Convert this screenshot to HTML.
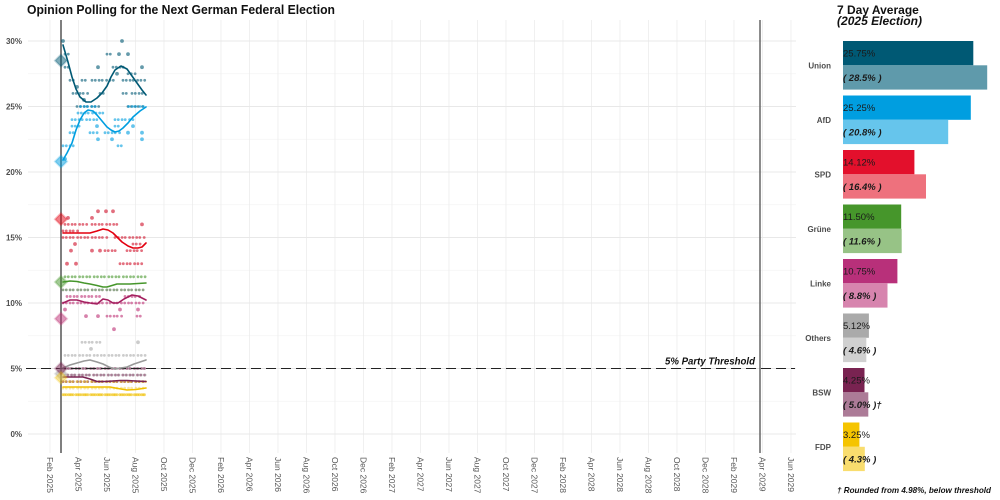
<!DOCTYPE html>
<html><head><meta charset="utf-8">
<style>
html,body{margin:0;padding:0;background:#fff;}
svg{display:block;font-family:"Liberation Sans",Arial,sans-serif;}
.gv{stroke:#ececec;stroke-width:0.8}
.gh{stroke:#e8e8e8;stroke-width:1}
.gm{stroke:#f4f4f4;stroke-width:0.7}
.xl{font-size:8.5px;fill:#555;}
.yl{font-size:8px;font-weight:bold;fill:#4d4d4d;text-anchor:end}
.pl{font-size:8px;font-weight:bold;fill:#4d4d4d;text-anchor:end}
.d{stroke-linecap:round;stroke-width:2.8;stroke-dasharray:0 3.3 0 3.8 0 3.1 0 4.4;opacity:.6;fill:none}
.c{opacity:.6}
.ln{fill:none;stroke-width:1.6;stroke-linejoin:round;stroke-linecap:round}
.bt{font-size:9.5px;fill:#1a1a1a}
.bi{font-size:9.5px;fill:#1a1a1a;font-style:italic;font-weight:bold}
</style></head><body>
<svg width="1000" height="500" viewBox="0 0 1000 500" xmlns="http://www.w3.org/2000/svg">
<rect width="1000" height="500" fill="#fff"/>
<g class="gm">
<line x1="28" x2="796" y1="401.25" y2="401.25"/>
<line x1="28" x2="796" y1="335.75" y2="335.75"/>
<line x1="28" x2="796" y1="270.25" y2="270.25"/>
<line x1="28" x2="796" y1="204.75" y2="204.75"/>
<line x1="28" x2="796" y1="139.25" y2="139.25"/>
<line x1="28" x2="796" y1="73.75" y2="73.75"/>
</g>
<g class="gv">
<line x1="50" x2="50" y1="20" y2="453"/><line x1="78.5" x2="78.5" y1="20" y2="453"/><line x1="107" x2="107" y1="20" y2="453"/><line x1="135.5" x2="135.5" y1="20" y2="453"/><line x1="164" x2="164" y1="20" y2="453"/><line x1="192.5" x2="192.5" y1="20" y2="453"/><line x1="221" x2="221" y1="20" y2="453"/><line x1="249.5" x2="249.5" y1="20" y2="453"/><line x1="278" x2="278" y1="20" y2="453"/><line x1="306.5" x2="306.5" y1="20" y2="453"/><line x1="335" x2="335" y1="20" y2="453"/><line x1="363.5" x2="363.5" y1="20" y2="453"/><line x1="392" x2="392" y1="20" y2="453"/><line x1="420.5" x2="420.5" y1="20" y2="453"/><line x1="449" x2="449" y1="20" y2="453"/><line x1="477.5" x2="477.5" y1="20" y2="453"/><line x1="506" x2="506" y1="20" y2="453"/><line x1="534.5" x2="534.5" y1="20" y2="453"/><line x1="563" x2="563" y1="20" y2="453"/><line x1="591.5" x2="591.5" y1="20" y2="453"/><line x1="620" x2="620" y1="20" y2="453"/><line x1="648.5" x2="648.5" y1="20" y2="453"/><line x1="677" x2="677" y1="20" y2="453"/><line x1="705.5" x2="705.5" y1="20" y2="453"/><line x1="734" x2="734" y1="20" y2="453"/><line x1="762.5" x2="762.5" y1="20" y2="453"/><line x1="791" x2="791" y1="20" y2="453"/>
</g>
<g class="gh">
<line x1="28" x2="796" y1="434" y2="434"/>
<line x1="28" x2="796" y1="368.5" y2="368.5"/>
<line x1="28" x2="796" y1="303" y2="303"/>
<line x1="28" x2="796" y1="237.5" y2="237.5"/>
<line x1="28" x2="796" y1="172" y2="172"/>
<line x1="28" x2="796" y1="106.5" y2="106.5"/>
<line x1="28" x2="796" y1="41" y2="41"/>
</g>
<text x="27" y="14" font-size="12.5" font-weight="bold" fill="#111" textLength="308" lengthAdjust="spacingAndGlyphs">Opinion Polling for the Next German Federal Election</text>
<text class="yl" x="22" y="44">30%</text>
<text class="yl" x="22" y="109.5">25%</text>
<text class="yl" x="22" y="175">20%</text>
<text class="yl" x="22" y="240.5">15%</text>
<text class="yl" x="22" y="306">10%</text>
<text class="yl" x="22" y="371.5">5%</text>
<text class="yl" x="22" y="437">0%</text>
<g class="xl" dominant-baseline="central">
<text transform="translate(50,457) rotate(90)">Feb 2025</text>
<text transform="translate(78.5,457) rotate(90)">Apr 2025</text>
<text transform="translate(107,457) rotate(90)">Jun 2025</text>
<text transform="translate(135.5,457) rotate(90)">Aug 2025</text>
<text transform="translate(164,457) rotate(90)">Oct 2025</text>
<text transform="translate(192.5,457) rotate(90)">Dec 2025</text>
<text transform="translate(221,457) rotate(90)">Feb 2026</text>
<text transform="translate(249.5,457) rotate(90)">Apr 2026</text>
<text transform="translate(278,457) rotate(90)">Jun 2026</text>
<text transform="translate(306.5,457) rotate(90)">Aug 2026</text>
<text transform="translate(335,457) rotate(90)">Oct 2026</text>
<text transform="translate(363.5,457) rotate(90)">Dec 2026</text>
<text transform="translate(392,457) rotate(90)">Feb 2027</text>
<text transform="translate(420.5,457) rotate(90)">Apr 2027</text>
<text transform="translate(449,457) rotate(90)">Jun 2027</text>
<text transform="translate(477.5,457) rotate(90)">Aug 2027</text>
<text transform="translate(506,457) rotate(90)">Oct 2027</text>
<text transform="translate(534.5,457) rotate(90)">Dec 2027</text>
<text transform="translate(563,457) rotate(90)">Feb 2028</text>
<text transform="translate(591.5,457) rotate(90)">Apr 2028</text>
<text transform="translate(620,457) rotate(90)">Jun 2028</text>
<text transform="translate(648.5,457) rotate(90)">Aug 2028</text>
<text transform="translate(677,457) rotate(90)">Oct 2028</text>
<text transform="translate(705.5,457) rotate(90)">Dec 2028</text>
<text transform="translate(734,457) rotate(90)">Feb 2029</text>
<text transform="translate(762.5,457) rotate(90)">Apr 2029</text>
<text transform="translate(791,457) rotate(90)">Jun 2029</text>
</g>
<line x1="61" x2="61" y1="20" y2="453" stroke="#555" stroke-width="1.5"/>
<line x1="760" x2="760" y1="20" y2="453" stroke="#666" stroke-width="1.5"/>

<g stroke="#005974" fill="#005974">
<circle class="c" cx="63" cy="41" r="1.4"/><circle class="c" cx="122" cy="41" r="1.4"/>
<line class="d" x1="65" x2="72" y1="54.1" y2="54.1"/><line class="d" x1="107" x2="113" y1="54.1" y2="54.1"/>
<circle class="c" cx="119" cy="54.1" r="1.4"/><circle class="c" cx="128" cy="54.1" r="1.4"/>
<line class="d" x1="65" x2="70" y1="67.2" y2="67.2"/><line class="d" x1="113" x2="127" y1="67.2" y2="67.2"/>
<circle class="c" cx="98" cy="67.2" r="1.4"/><circle class="c" cx="142" cy="67.2" r="1.4"/>
<circle class="c" cx="117" cy="73.75" r="1.4"/><line class="d" x1="128" x2="137" y1="73.75" y2="73.75"/>
<line class="d" x1="70" x2="75" y1="80.3" y2="80.3"/><line class="d" x1="82" x2="86" y1="80.3" y2="80.3"/><line class="d" x1="92" x2="107" y1="80.3" y2="80.3"/><line class="d" x1="110" x2="115" y1="80.3" y2="80.3"/><line class="d" x1="123" x2="145" y1="80.3" y2="80.3"/>
<circle class="c" cx="77" cy="86.85" r="1.4"/>
<line class="d" x1="73" x2="90" y1="93.4" y2="93.4"/><line class="d" x1="100" x2="107" y1="93.4" y2="93.4"/><line class="d" x1="123" x2="127" y1="93.4" y2="93.4"/><line class="d" x1="132" x2="145" y1="93.4" y2="93.4"/>
<circle class="c" cx="84" cy="99.95" r="1.4"/>
<line class="d" x1="77" x2="100" y1="106.5" y2="106.5"/><line class="d" x1="128" x2="145" y1="106.5" y2="106.5"/>
</g>
<g stroke="#009ee0" fill="#009ee0">
<line class="d" x1="79" x2="99" y1="106.5" y2="106.5" style="stroke-dashoffset:1.6"/><line class="d" x1="127" x2="146" y1="106.5" y2="106.5" style="stroke-dashoffset:1.6"/>
<line class="d" x1="78" x2="107" y1="113.05" y2="113.05"/>
<line class="d" x1="72" x2="100" y1="119.6" y2="119.6"/><line class="d" x1="115" x2="135" y1="119.6" y2="119.6"/>
<line class="d" x1="72" x2="82" y1="126.15" y2="126.15"/><circle class="c" cx="97" cy="126.15" r="1.4"/><circle class="c" cx="133" cy="126.15" r="1.4"/><line class="d" x1="115" x2="122" y1="126.15" y2="126.15"/>
<line class="d" x1="70" x2="75" y1="132.7" y2="132.7"/><line class="d" x1="90" x2="100" y1="132.7" y2="132.7"/><line class="d" x1="105" x2="122" y1="132.7" y2="132.7"/><circle class="c" cx="128" cy="132.7" r="1.4"/><circle class="c" cx="142" cy="132.7" r="1.4"/>
<circle class="c" cx="98" cy="139.25" r="1.4"/><circle class="c" cx="112" cy="139.25" r="1.4"/><circle class="c" cx="142" cy="139.25" r="1.4"/>
<line class="d" x1="63" x2="75" y1="145.8" y2="145.8"/><line class="d" x1="118" x2="122" y1="145.8" y2="145.8"/>
<circle class="c" cx="65" cy="158.9" r="1.4"/>
</g>
<g stroke="#d0102a" fill="#d0102a">
<circle class="c" cx="98" cy="211.3" r="1.4"/><circle class="c" cx="106" cy="211.3" r="1.4"/><circle class="c" cx="113" cy="211.3" r="1.4"/>
<circle class="c" cx="68" cy="217.85" r="1.4"/><circle class="c" cx="92" cy="217.85" r="1.4"/>
<line class="d" x1="65" x2="87" y1="224.4" y2="224.4"/><line class="d" x1="92" x2="120" y1="224.4" y2="224.4"/><circle class="c" cx="142" cy="224.4" r="1.4"/>
<line class="d" x1="63" x2="80" y1="230.95" y2="230.95"/>
<line class="d" x1="63" x2="110" y1="237.5" y2="237.5"/><line class="d" x1="115" x2="146" y1="237.5" y2="237.5"/>
<circle class="c" cx="75" cy="244.05" r="1.4"/><line class="d" x1="133" x2="143" y1="244.05" y2="244.05"/>
<circle class="c" cx="71" cy="250.6" r="1.4"/><circle class="c" cx="92" cy="250.6" r="1.4"/><circle class="c" cx="100" cy="250.6" r="1.4"/><line class="d" x1="105" x2="117" y1="250.6" y2="250.6"/><line class="d" x1="127" x2="143" y1="250.6" y2="250.6"/>
<circle class="c" cx="67" cy="263.7" r="1.4"/><circle class="c" cx="76" cy="263.7" r="1.4"/><line class="d" x1="120" x2="144" y1="263.7" y2="263.7"/>
</g>
<g stroke="#46962b" fill="#46962b">
<line class="d" x1="65" x2="146" y1="276.8" y2="276.8"/>
<line class="d" x1="63" x2="146" y1="289.9" y2="289.9" style="stroke:#4a6a3e"/>
</g>
<g stroke="#be3075" fill="#be3075">
<line class="d" x1="67" x2="103" y1="296.45" y2="296.45"/><line class="d" x1="125" x2="140" y1="296.45" y2="296.45"/>
<line class="d" x1="63" x2="146" y1="303" y2="303"/>
<circle class="c" cx="65" cy="309.55" r="1.4"/><circle class="c" cx="120" cy="309.55" r="1.4"/><circle class="c" cx="138" cy="309.55" r="1.4"/>
<circle class="c" cx="86" cy="316.1" r="1.4"/><circle class="c" cx="98" cy="316.1" r="1.4"/><line class="d" x1="107" x2="122" y1="316.1" y2="316.1"/><line class="d" x1="137" x2="143" y1="316.1" y2="316.1"/>
<circle class="c" cx="114" cy="329.2" r="1.4"/>
</g>
<g stroke="#aaaaaa" fill="#aaaaaa">
<line class="d" x1="82" x2="100" y1="342.3" y2="342.3"/><circle class="c" cx="138" cy="342.3" r="1.4"/>
<circle class="c" cx="91" cy="348.85" r="1.4"/>
<line class="d" x1="65" x2="146" y1="355.4" y2="355.4"/>
<line class="d" x1="63" x2="146" y1="368.5" y2="368.5"/>
<line class="d" x1="65" x2="146" y1="375.05" y2="375.05"/>
</g>
<g stroke="#792351" fill="#792351">
<line class="d" x1="63" x2="146" y1="368.5" y2="368.5" style="stroke-dashoffset:1.7"/>
<line class="d" x1="66" x2="146" y1="375.05" y2="375.05" style="stroke-dashoffset:1.7;opacity:.45"/>
<line class="d" x1="63" x2="146" y1="381.6" y2="381.6"/>
</g>
<g stroke="#f0c000" fill="#f0c000">
<line class="d" x1="64" x2="146" y1="381.6" y2="381.6" style="stroke-dashoffset:1.7;opacity:.5"/>
<line class="d" x1="63" x2="146" y1="388.15" y2="388.15" style="opacity:.35"/>
<line class="d" x1="63" x2="146" y1="394.7" y2="394.7"/>
<line class="d" x1="63" x2="146" y1="394.7" y2="394.7" style="stroke-dashoffset:1.7"/>
</g>

<line x1="26" x2="795" y1="368.5" y2="368.5" stroke="#222" stroke-width="1" stroke-dasharray="10 5"/>
<text x="665" y="364.5" font-size="10" font-style="italic" font-weight="bold" fill="#111" textLength="90" lengthAdjust="spacingAndGlyphs">5% Party Threshold</text>

<polyline class="ln" stroke="#005974" points="63,45 68,62 72,77 76,89 80,97 86,102 91,102 97,98 102,93 107,86 111,77 115,70 121,66 127,69 132,76 137,83 142,90 146,95"/>
<polyline class="ln" stroke="#009ee0" points="63,160 67,153 72,143 76,130 80,120 84,113 88,110 93,111 97,115 102,121 107,127 111,130 115,132 119,131 123,128 128,123 133,117 140,111 146,107"/>
<polyline class="ln" stroke="#e3000f" points="63,233 75,233 90,233 97,231 103,229 108,230 113,233 118,238 122,242 128,246 133,248 138,248 142,247 146,243"/>
<polyline class="ln" stroke="#46962b" points="63,282 70,281 77,281.5 84,283 90,284 97,285.5 103,287 107,287 112,285.5 117,284 124,284 130,284 138,283.5 146,283"/>
<polyline class="ln" stroke="#a3205f" points="63,303 70,300 77,300 84,302 90,303 97,304 103,299 108,300 113,303 118,303 124,299 132,295 138,296 146,300"/>
<polyline class="ln" stroke="#999" points="63,368 70,365 77,363 84,361 90,360 97,362 103,364 109,367 115,369 121,368 127,367 134,364 140,362 146,360"/>
<polyline class="ln" stroke="#792351" points="63,377 73,377 83,377 90,379 97,381.5 105,381.5 113,381 120,380.5 127,380.5 136,381 146,381.5"/>
<polyline class="ln" stroke="#f0c000" points="63,387 80,387 95,387 110,387 118,388.5 127,390 136,389.5 146,388"/>

<g stroke-width="2">
<path d="M61,54.6 L67,60.6 L61,66.6 L55,60.6Z" fill="#005974" fill-opacity=".5" stroke="#005974" stroke-opacity=".25"/>
<path d="M61,155.5 L67,161.5 L61,167.5 L55,161.5Z" fill="#009ee0" fill-opacity=".5" stroke="#009ee0" stroke-opacity=".25"/>
<path d="M61,213.2 L67,219.2 L61,225.2 L55,219.2Z" fill="#e3000f" fill-opacity=".5" stroke="#e3000f" stroke-opacity=".25"/>
<path d="M61,276 L67,282 L61,288 L55,282Z" fill="#46962b" fill-opacity=".5" stroke="#46962b" stroke-opacity=".25"/>
<path d="M61,312.7 L67,318.7 L61,324.7 L55,318.7Z" fill="#be3075" fill-opacity=".5" stroke="#be3075" stroke-opacity=".25"/>
<path d="M61,367.7 L67,373.7 L61,379.7 L55,373.7Z" fill="#aaaaaa" fill-opacity=".5" stroke="#aaaaaa" stroke-opacity=".25"/>
<path d="M61,362.5 L67,368.5 L61,374.5 L55,368.5Z" fill="#792351" fill-opacity=".5" stroke="#792351" stroke-opacity=".25"/>
<path d="M61,371.7 L67,377.7 L61,383.7 L55,377.7Z" fill="#f0c000" fill-opacity=".4" stroke="#f0c000" stroke-opacity=".2"/>
</g>

<text x="837" y="14" font-size="12" font-weight="bold" fill="#111">7 Day Average</text>
<text x="837" y="25" font-size="12" font-weight="bold" font-style="italic" fill="#111" textLength="85" lengthAdjust="spacingAndGlyphs">(2025 Election)</text>

<rect x="843" y="41" width="130.3" height="24.3" fill="#005974"/>
<rect x="843" y="65.3" width="144.2" height="24.3" fill="#5f9aab"/>
<text class="pl" x="831" y="68.5">Union</text>
<text class="bt" x="843" y="56.5">25.75%</text>
<text class="bi" x="843" y="81">( 28.5% )</text>

<rect x="843" y="95.5" width="127.8" height="24.3" fill="#009ee0"/>
<rect x="843" y="119.8" width="105.2" height="24.3" fill="#66c5ec"/>
<text class="pl" x="831" y="123">AfD</text>
<text class="bt" x="843" y="111">25.25%</text>
<text class="bi" x="843" y="135.5">( 20.8% )</text>

<rect x="843" y="150" width="71.4" height="24.3" fill="#e3102c"/>
<rect x="843" y="174.3" width="83" height="24.3" fill="#ee717d"/>
<text class="pl" x="831" y="177.5">SPD</text>
<text class="bt" x="843" y="165.5">14.12%</text>
<text class="bi" x="843" y="190">( 16.4% )</text>

<rect x="843" y="204.5" width="58.2" height="24.3" fill="#46962b"/>
<rect x="843" y="228.8" width="58.7" height="24.3" fill="#97c386"/>
<text class="pl" x="831" y="232">Grüne</text>
<text class="bt" x="843" y="220">11.50%</text>
<text class="bi" x="843" y="244.5">( 11.6% )</text>

<rect x="843" y="259" width="54.4" height="24.3" fill="#b8307a"/>
<rect x="843" y="283.3" width="44.5" height="24.3" fill="#d784ae"/>
<text class="pl" x="831" y="286.5">Linke</text>
<text class="bt" x="843" y="274.5">10.75%</text>
<text class="bi" x="843" y="299">( 8.8% )</text>

<rect x="843" y="313.5" width="25.9" height="24.3" fill="#aaaaaa"/>
<rect x="843" y="337.8" width="23.3" height="24.3" fill="#d0d0d0"/>
<text class="pl" x="831" y="341">Others</text>
<text class="bt" x="843" y="329">5.12%</text>
<text class="bi" x="843" y="353.5">( 4.6% )</text>

<rect x="843" y="368" width="21.5" height="24.3" fill="#792351"/>
<rect x="843" y="392.3" width="25.3" height="24.3" fill="#ac7b97"/>
<text class="pl" x="831" y="395.5">BSW</text>
<text class="bt" x="843" y="383.5">4.25%</text>
<text class="bi" x="843" y="408">( 5.0% )†</text>

<rect x="843" y="422.5" width="16.4" height="24.3" fill="#f5c400"/>
<rect x="843" y="446.8" width="21.8" height="24.3" fill="#f9dd6e"/>
<text class="pl" x="831" y="450">FDP</text>
<text class="bt" x="843" y="438">3.25%</text>
<text class="bi" x="843" y="462.5">( 4.3% )</text>

<text x="837" y="493" font-size="8.5" font-weight="bold" font-style="italic" fill="#111" textLength="154" lengthAdjust="spacingAndGlyphs">† Rounded from 4.98%, below threshold</text>
</svg>
</body></html>
